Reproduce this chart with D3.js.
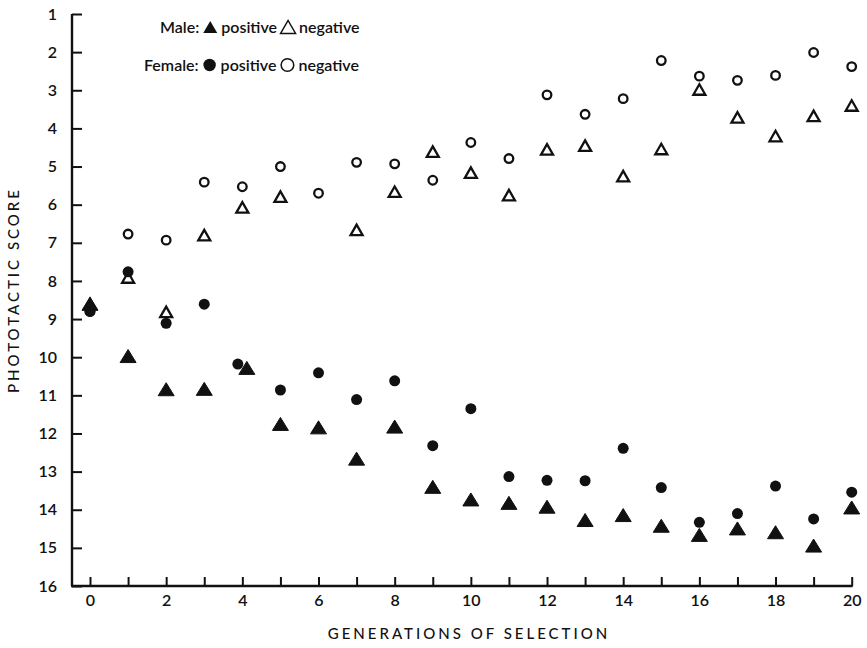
<!DOCTYPE html>
<html>
<head>
<meta charset="utf-8">
<script src="https://cdn.jsdelivr.net/npm/d3@7/dist/d3.min.js"></script>
<style>
  html, body { margin: 0; padding: 0; background: #fff; }
  svg { display: block; font-family: "Lato", "DejaVu Sans", sans-serif; }
</style>
</head>
<body>
<svg id="chart" width="867" height="648"></svg>
<script>
// Generations of selection (x) and phototactic scores (y, 1 = most photonegative)
const generations = [0,1,2,3,4,5,6,7,8,9,10,11,12,13,14,15,16,17,18,19,20];
const malePositive   = [8.6, 9.97, 10.84, 10.83, 10.28, 11.75, 11.84, 12.66, 11.82, 13.40, 13.73, 13.82, 13.92, 14.27, 14.14, 14.42, 14.66, 14.49, 14.59, 14.94, 13.94];
const maleNegative   = [8.6, 7.91, 8.81, 6.80, 6.07, 5.79, null, 6.66, 5.66, 4.61, 5.16, 5.75, 4.55, 4.45, 5.25, 4.54, 2.98, 3.71, 4.20, 3.67, 3.40];
const femalePositive = [8.8, 7.76, 9.11, 8.61, 10.18, 10.86, 10.41, 11.11, 10.62, 12.32, 11.35, 13.13, 13.23, 13.24, 12.39, 13.42, 14.33, 14.10, 13.38, 14.24, 13.54];
const femaleNegative = [8.8, 6.77, 6.93, 5.41, 5.53, 5.00, 5.70, 4.89, 4.93, 5.36, 4.37, 4.79, 3.12, 3.63, 3.22, 2.22, 2.63, 2.74, 2.61, 2.01, 2.38];
const yTicks = [1,2,3,4,5,6,7,8,9,10,11,12,13,14,15,16];
const xTicks = d3.range(0, 21);

const svg = d3.select("#chart");
const x = d3.scaleLinear().domain([0, 20]).range([90, 851.7]);
const y = d3.scaleLinear().domain([1, 16]).range([14, 586]);
const ink = "#111";

// Axes: inward ticks, y at every score, x labelled at even generations
const yAxis = svg.append("g")
  .attr("transform", "translate(72,0)")
  .call(d3.axisLeft(y).tickValues(yTicks).tickSizeInner(-10).tickSizeOuter(0).tickPadding(15));
const xAxis = svg.append("g")
  .attr("transform", "translate(0,586)")
  .call(d3.axisBottom(x).tickValues(xTicks).tickSizeInner(-9).tickSizeOuter(0).tickPadding(9)
    .tickFormat(d => d % 2 === 0 ? d : ""));
[yAxis, xAxis].forEach(g => {
  g.select(".domain").remove();
  g.selectAll(".tick line").attr("stroke", ink).attr("stroke-width", 2);
  g.selectAll(".tick text").attr("fill", ink).style("font-size", "16px")
    .style("font-weight", "600")
    .style("font-family", "Lato, 'DejaVu Sans', sans-serif");
});
svg.append("line").attr("x1", 72).attr("x2", 72).attr("y1", y(1)).attr("y2", y(16))
  .attr("stroke", ink).attr("stroke-width", 2.4);
svg.append("line").attr("x1", 71).attr("x2", x(20) + 1).attr("y1", y(16)).attr("y2", y(16))
  .attr("stroke", ink).attr("stroke-width", 2.4);

// Axis titles
svg.append("text")
  .attr("x", 469).attr("y", 639)
  .attr("text-anchor", "middle")
  .attr("fill", ink)
  .style("font-size", "15px").style("font-weight", "500").style("letter-spacing", "3px")
  .text("GENERATIONS OF SELECTION");
svg.append("text")
  .attr("transform", "translate(19,290) rotate(-90)")
  .attr("text-anchor", "middle")
  .attr("fill", ink)
  .style("font-size", "15px").style("font-weight", "500").style("letter-spacing", "3px")
  .text("PHOTOTACTIC SCORE");

// Marker shapes
const triPath = (cx, cy, w, h) =>
  `M${cx},${cy - h / 2}L${cx + w / 2},${cy + h / 2}L${cx - w / 2},${cy + h / 2}Z`;

function drawTriangles(values, filled, dx) {
  svg.append("g").selectAll("path")
    .data(generations.map((g, i) => ({ g, v: values[i], i })).filter(d => d.v != null))
    .join("path")
    .attr("d", d => filled
      ? triPath(x(d.g) + (dx ? dx(d) : 0), y(d.v), 16, 13)
      : triPath(x(d.g), y(d.v), 12, 10.5))
    .attr("fill", filled ? ink : "none")
    .attr("stroke", ink)
    .attr("stroke-width", filled ? 1 : 2.3)
    .attr("stroke-linejoin", "miter");
}
function drawCircles(values, filled, dx) {
  svg.append("g").selectAll("circle")
    .data(generations.map((g, i) => ({ g, v: values[i], i })).filter(d => d.v != null))
    .join("circle")
    .attr("cx", d => x(d.g) + (dx ? dx(d) : 0))
    .attr("cy", d => y(d.v))
    .attr("r", filled ? 5.5 : 4.3)
    .attr("fill", filled ? ink : "none")
    .attr("stroke", ink)
    .attr("stroke-width", filled ? 0 : 2.3);
}

// Where the two positive lines nearly coincide, nudge them apart sideways
const close = i => Math.abs(malePositive[i] - femalePositive[i]) < 0.15;
drawCircles(femaleNegative, false);
drawTriangles(maleNegative, false);
drawCircles(femalePositive, true, d => close(d.i) ? -4.5 : 0);
drawTriangles(malePositive, true, d => close(d.i) ? 4.5 : 0);

// Legend
const legend = [
  { label: "Male:", y: 33, x0: 160, filled: "tri", open: "tri" },
  { label: "Female:", y: 71, x0: 144, filled: "circ", open: "circ" }
];
legend.forEach(row => {
  const g = svg.append("g").style("font-size", "16px").style("font-weight", "600").attr("fill", ink);
  const t1 = g.append("text").attr("x", row.x0).attr("y", row.y).text(row.label);
  let cx = row.x0 + t1.node().getComputedTextLength() + 11;
  if (row.filled === "tri") g.append("path").attr("d", triPath(cx, row.y - 6, 14, 12)).attr("fill", ink);
  else g.append("circle").attr("cx", cx).attr("cy", row.y - 6).attr("r", 6.2).attr("fill", ink);
  const t2 = g.append("text").attr("x", cx + 11).attr("y", row.y).text("positive");
  cx = cx + 11 + t2.node().getComputedTextLength() + 11;
  if (row.open === "tri") g.append("path").attr("d", triPath(cx, row.y - 6, 15, 13))
    .attr("fill", "none").attr("stroke", ink).attr("stroke-width", 1.5);
  else g.append("circle").attr("cx", cx).attr("cy", row.y - 6).attr("r", 6.3)
    .attr("fill", "none").attr("stroke", ink).attr("stroke-width", 1.5);
  g.append("text").attr("x", cx + 11).attr("y", row.y).text("negative");
});
</script>
</body>
</html>
